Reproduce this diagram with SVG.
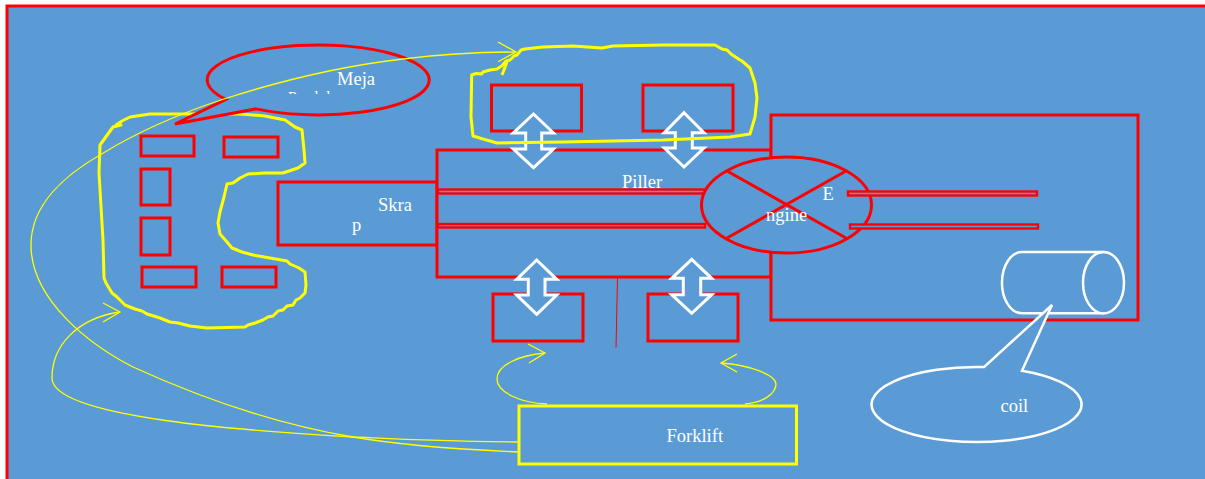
<svg xmlns="http://www.w3.org/2000/svg" width="1205" height="479" viewBox="0 0 1205 479">
<style>
.r{fill:#5b9bd5;stroke:#ff0000;stroke-width:3}
.n{fill:none;stroke:#ff0000;stroke-width:3}
.bar{fill:#5b9bd5;stroke:#ff0000;stroke-width:2.4}
.w{fill:#5b9bd5;stroke:#ffffff;stroke-width:3;stroke-linejoin:miter}
.y{fill:none;stroke:#ffff00;stroke-width:3;stroke-linejoin:round}
.c{fill:none;stroke:#ffff00;stroke-width:1.3}
text{font-family:"Liberation Serif","Times New Roman",serif;font-size:18.5px;fill:#ffffff}
</style>
<defs><clipPath id="clipTop"><rect x="270" y="80" width="80" height="14"/></clipPath></defs>
<rect x="0" y="0" width="1205" height="479" fill="#ffffff"/>
<rect id="background" x="7" y="6" width="1210" height="490" fill="#5b9bd5" stroke="#ff0000" stroke-width="3"/>
<g id="left-racks">
<rect class="r" x="141" y="136" width="53" height="20"/>
<rect class="r" x="224" y="137" width="54" height="20"/>
<rect class="r" x="141" y="169" width="29" height="36"/>
<rect class="r" x="141" y="218" width="29" height="37"/>
<rect class="r" x="142" y="267" width="54" height="20"/>
<rect class="r" x="222" y="267" width="54" height="20"/>
</g>
<path id="left-blob" class="y" d="M113,127 L121,125 L116,125 L122,121 L130,117 L150,114 L185,114 L240,114 L265,116 L285,120 L295,127 L302,130 L304,150 L305,163 L298,168 L283,173 L265,173 L248,174 L240,178 L233,183 L227,184 L224,197 L220,212 L218,223 L220,234 L227,242 L232,248 L242,252 L253,255 L270,258 L287,261 L290,264 L299,268 L305,272 L306,285 L305,293 L300,298 L296,300 L293,305 L287,306 L283,310 L278,311 L273,316 L268,317 L263,320 L255,323 L248,325 L245,327 L207,328 L190,326 L178,323 L170,322 L160,318 L147,314 L142,311 L135,309 L125,305 L117,297 L112,293 L106,283 L104,278 L103,240 L99,173 L100,145 Z"/>
<g id="skrap"><rect class="r" x="278" y="182" width="159" height="63"/><text x="378" y="211">Skra</text><text x="352" y="231">p</text></g>
<g id="pillar-block"><rect class="r" x="437" y="150" width="334" height="127"/><path class="n" d="M617.500,278 L616,347.500" style="stroke-width:1"/><text x="622" y="188">Piller</text></g>
<g id="engine-block"><rect class="r" x="771" y="115" width="367" height="205"/></g>
<g id="upper-racks">
<rect class="r" x="491.500" y="85" width="90" height="46"/>
<rect class="r" x="643" y="85" width="90" height="46"/>
</g>
<g id="lower-racks">
<rect class="r" x="493" y="294" width="90" height="47"/>
<rect class="r" x="648" y="294" width="90" height="47"/>
</g>
<g id="bars">
<rect class="bar" x="438" y="189.500" width="274" height="4"/>
<rect class="bar" x="438" y="224" width="267" height="3.500"/>
</g>
<g id="engine">
<ellipse class="r" cx="786.500" cy="205" rx="85" ry="48"/>
<path class="n" d="M727,171 L846,238 M727,238 L846,171"/>
<text x="822.500" y="200">E</text><text x="766" y="221">ngine</text>
</g>
<g id="right-bars">
<rect class="bar" x="848" y="191.500" width="189" height="4"/>
<rect class="bar" x="850" y="224.500" width="188" height="4"/>
</g>
<g id="arrows">
<path class="w" d="M533.500,114 L553.500,133 H541.700 V149 H553.500 L533.500,167.700 L513.300,149 H525.700 V133 H513.300 Z"/>
<path class="w" d="M684,112.700 L704,132.700 H692.300 V148 H704 L684,167 L664.300,148 H675.300 V132.700 H664.300 Z"/>
<path class="w" d="M536.700,260 L556.700,279.300 H545 V295 H556.700 L536.700,314.300 L516.700,295 H528.300 V279.300 H516.700 Z"/>
<path class="w" d="M691.700,259.300 L711.700,278.300 H700.700 V294.700 H711.700 L691.700,313.300 L671.700,294.700 H683.300 V278.300 H671.700 Z"/>
</g>
<path id="top-blob" class="y" d="M471.700,75 L476,73.500 L481.700,74 L483,72 L490,70 L497,69 L501.700,66 L506,61 L510,60 L514,56 L517,55 L521,50 L525,49 L543,47 L573,46 L602,48 L613,46 L663,45 L715,45 L722,49 L727,50 L731,54 L740,60 L742,61 L750,68 L755,83 L757,98 L755,117 L750,134 L730,137 L663,140 L563,142 L497,143 L483,139 L473,136 L471,117 Z M502,75 L507,62"/>
<g id="meja">
<path class="r" d="M226,99.400 L175,124 L256,108.900 A111,35 0 1 0 226,99.400 Z"/>
<text x="337" y="85">Meja</text>
<text x="288" y="103" clip-path="url(#clipTop)" style="font-size:16px">Produk</text>
</g>
<g id="coil">
<path d="M1022,252 H1103.500 M1022,313.300 H1103.500 M1022,252 A20,30.600 0 0 0 1022,313.300" fill="none" stroke="#fff" stroke-width="2.500"/>
<ellipse cx="1103.500" cy="282.700" rx="20.500" ry="30.700" fill="none" stroke="#fff" stroke-width="2.500"/>
<path d="M984,367.100 L1052,305 L1022,370.700 A105,37.500 0 1 1 984,367.100 Z" fill="#5b9bd5" stroke="#fff" stroke-width="2.500"/>
<text x="1000.500" y="412">coil</text>
</g>
<g id="forklift"><rect x="519" y="406" width="277.500" height="58" fill="#5b9bd5" stroke="#ffff00" stroke-width="3"/><text x="666.500" y="442">Forklift</text></g>
<g id="connectors">
<path class="c" d="M519,452 C450,449 400,445 353,437 C270,423 190,393 133,367 C90,345 31,300 31,245 C31,205 65,175 100,155 C140,130 190,110 227,98 C290,78 350,65 403,59 C450,53 490,52 516,52"/>
<path class="c" d="M498,42 L516,52 L498,61.700"/>
<path class="c" d="M519,442 C420,441 380,438 353,437 C250,431 52,418 52,378 C52,345 78,318 120,312"/>
<path class="c" d="M103,303 L120,312 L103,322"/>
<path class="c" d="M547,404 C520,403 497,392 497,379 C497,365 520,355 545,353"/>
<path class="c" d="M528,344 L545,353 L529,363"/>
<path class="c" d="M745,404 C762,403 776,394 776,384 C776,375 750,365 721,363"/>
<path class="c" d="M737,354 L721,363 L737,372"/>
</g>
</svg>
